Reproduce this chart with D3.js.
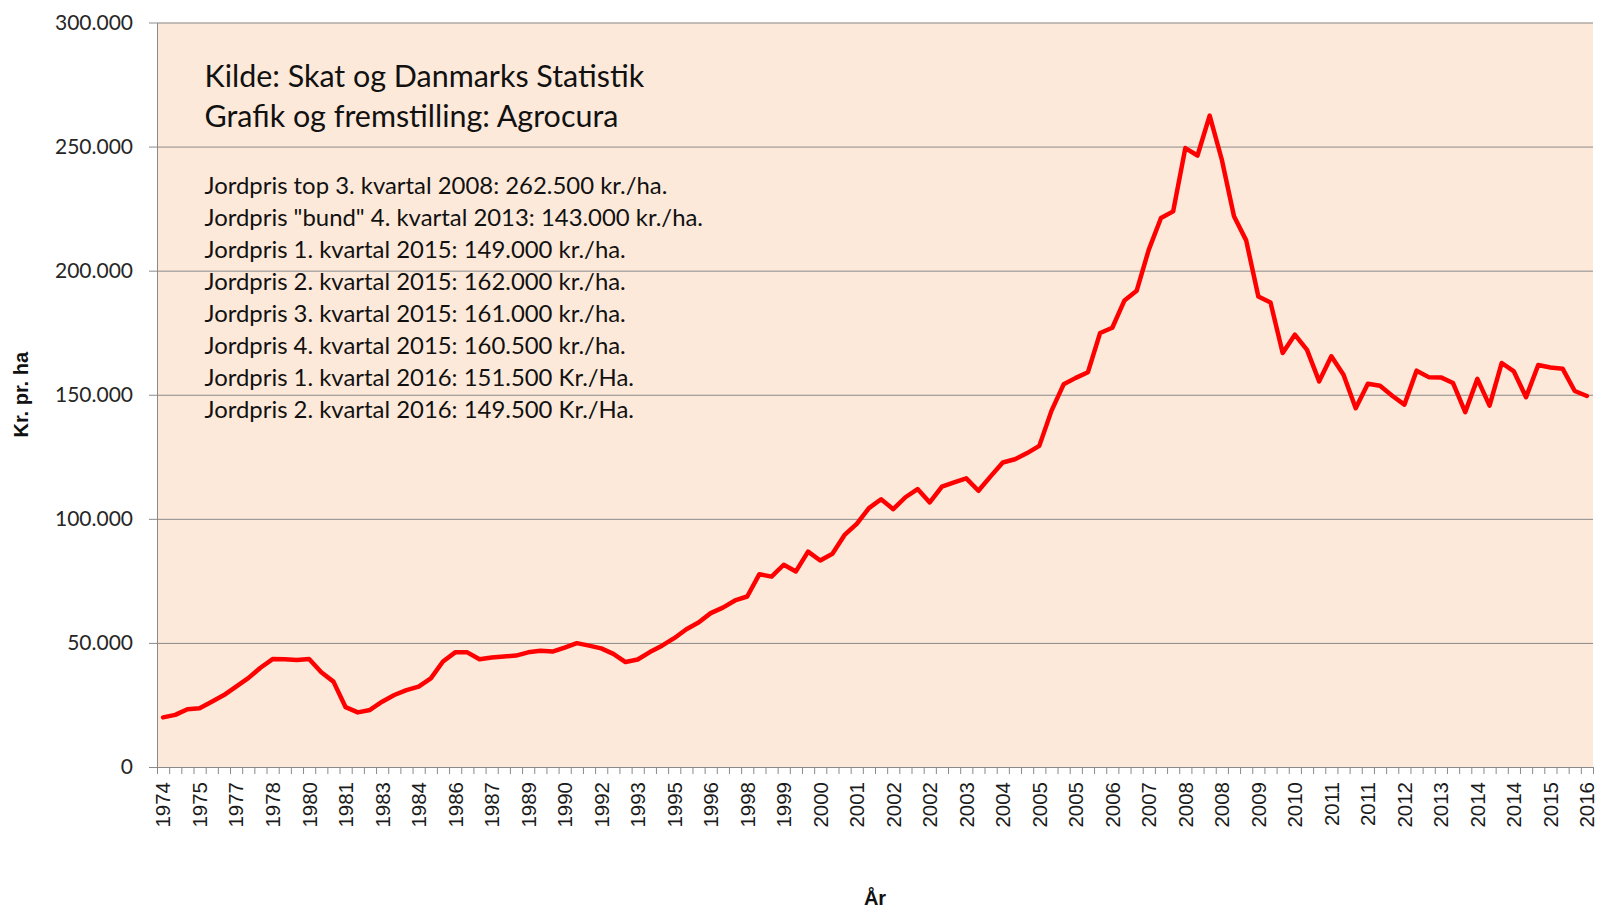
<!DOCTYPE html>
<html><head><meta charset="utf-8">
<script src="https://cdn.jsdelivr.net/npm/d3@7"></script>
<style>html,body{margin:0;padding:0;background:#fff;} svg{display:block;}</style>
</head><body>
<svg id="c" width="1597" height="909"></svg>
<script>
// Categories: half-yearly 1974-1999, then quarterly 2000-2016 Q2
const categories = [
"1974","1974","1975","1975","1976","1976","1977","1977","1978","1978",
"1979","1979","1980","1980","1981","1981","1982","1982","1983","1983",
"1984","1984","1985","1985","1986","1986","1987","1987","1988","1988",
"1989","1989","1990","1990","1991","1991","1992","1992","1993","1993",
"1994","1994","1995","1995","1996","1996","1997","1997","1998","1998",
"1999","1999",
"2000","2000","2000","2000","2001","2001","2001","2001","2002","2002","2002","2002",
"2003","2003","2003","2003","2004","2004","2004","2004","2005","2005","2005","2005",
"2006","2006","2006","2006","2007","2007","2007","2007","2008","2008","2008","2008",
"2009","2009","2009","2009","2010","2010","2010","2010","2011","2011","2011","2011",
"2012","2012","2012","2012","2013","2013","2013","2013","2014","2014","2014","2014",
"2015","2015","2015","2015","2016","2016"
];
const values = [
20000,21000,23300,23700,26300,29000,32400,35800,40000,43500,
43400,43100,43500,38200,34400,24100,22000,23000,26300,29000,
31000,32400,35700,42500,46200,46200,43400,44100,44500,44900,
46200,46800,46500,48100,49900,48900,47800,45600,42300,43300,
46300,48900,51900,55500,58200,62000,64200,67100,68700,77700,
76700,81500,78800,86800,83200,85900,93500,98000,104300,107900,
103900,108700,112000,106600,113000,114700,116300,111300,117100,122700,
124000,126500,129400,143500,154200,156800,159100,174900,177000,188000,
191900,208500,221200,223900,249400,246400,262500,244700,221900,212200,
189600,187200,166800,174200,168100,155400,165500,158100,144600,154400,
153600,149600,146000,159700,157100,157000,154700,143000,156400,145600,
162800,159400,149000,162000,161000,160500,151500,149500
];
const yTicks = [0,50000,100000,150000,200000,250000,300000];
const infoLines = ["Kilde: Skat og Danmarks Statistik","Grafik og fremstilling: Agrocura"];
const noteLines = [
"Jordpris top 3. kvartal 2008: 262.500 kr./ha.",
"Jordpris \"bund\" 4. kvartal 2013: 143.000 kr./ha.",
"Jordpris 1. kvartal 2015: 149.000 kr./ha.",
"Jordpris 2. kvartal 2015: 162.000 kr./ha.",
"Jordpris 3. kvartal 2015: 161.000 kr./ha.",
"Jordpris 4. kvartal 2015: 160.500 kr./ha.",
"Jordpris 1. kvartal 2016: 151.500 Kr./Ha.",
"Jordpris 2. kvartal 2016: 149.500 Kr./Ha."
];
const yTitle = "Kr. pr. ha";
const xTitle = "År";

const m = {left:157, right:1593, top:22.5, bottom:767};
const svg = d3.select("#c");
const n = values.length;
const x = d3.scaleBand().domain(d3.range(n)).range([m.left, m.right]).padding(0);
const xEdge = d3.scaleLinear().domain([0, n]).range([m.left, m.right]);
const y = d3.scaleLinear().domain([0, 300000]).range([m.bottom, m.top]);
const loc = d3.formatLocale({decimal:",", thousands:".", grouping:[3], currency:["",""]});
const fmt = loc.format(",");

svg.append("rect").attr("x", m.left).attr("y", m.top)
  .attr("width", m.right - m.left).attr("height", m.bottom - m.top)
  .attr("fill", "#FDE9D9");

// gridlines
svg.append("g").attr("transform", `translate(${m.left},0)`)
  .call(d3.axisLeft(y).tickValues(yTicks).tickSize(-(m.right - m.left)).tickFormat(""))
  .call(g => g.select(".domain").remove())
  .call(g => g.selectAll("line").attr("stroke", "#8a8a8a").attr("stroke-width", 1));

// y axis
const ya = svg.append("g").attr("transform", `translate(${m.left},0)`)
  .call(d3.axisLeft(y).tickValues(yTicks).tickSize(8).tickSizeOuter(0).tickPadding(16).tickFormat(fmt));
ya.select(".domain").attr("stroke", "#8a8a8a");
ya.selectAll("line").attr("stroke", "#8a8a8a");
ya.selectAll("text").attr("font-family", "Lato, sans-serif").attr("font-size", 21).attr("fill", "#262626");

// x axis tick marks at category boundaries
const xa = svg.append("g").attr("transform", `translate(0,${m.bottom})`)
  .call(d3.axisBottom(xEdge).tickValues(d3.range(n + 1)).tickSize(7).tickSizeOuter(0).tickFormat(""));
xa.select(".domain").attr("stroke", "#8a8a8a");
xa.selectAll("line").attr("stroke", "#8a8a8a");

// x labels every 3rd category
const xl = svg.append("g").attr("transform", `translate(0,${m.bottom})`)
  .call(d3.axisBottom(x).tickValues(d3.range(0, n, 3)).tickSize(0).tickFormat(i => categories[i]));
xl.select(".domain").remove();
xl.selectAll("text")
  .attr("font-family", "'Liberation Sans', Arial, sans-serif").attr("font-size", 20.5).attr("fill", "#1a1a1a")
  .attr("transform", "rotate(-90)").attr("text-anchor", "end")
  .attr("x", -15).attr("y", 0).attr("dy", "0.36em");

// line
const line = d3.line().x((d, i) => x(i) + x.bandwidth() / 2).y(d => y(d));
svg.append("path").datum(values).attr("d", line)
  .attr("fill", "none").attr("stroke", "#FF0000").attr("stroke-width", 4.5)
  .attr("stroke-linejoin", "round").attr("stroke-linecap", "round");

// annotations
function fit(sel, target) {
  const w = sel.node().getComputedTextLength();
  const fs = parseFloat(sel.attr("font-size"));
  return fs * target / w;
}
const info = svg.append("g").selectAll("text").data(infoLines).join("text")
  .attr("x", 204.5).attr("y", (d, i) => 87 + i * 40)
  .attr("font-family", "Lato, sans-serif").attr("font-size", 28).attr("fill", "#111")
  .text(d => d);
const fsInfo = fit(d3.select(info.nodes()[0]), 440);
info.attr("font-size", fsInfo);

const notes = svg.append("g").selectAll("text").data(noteLines).join("text")
  .attr("x", 204.5).attr("y", (d, i) => 194 + i * 32)
  .attr("font-family", "Lato, sans-serif").attr("font-size", 22).attr("fill", "#111")
  .text(d => d);
const fsNote = fit(d3.select(notes.nodes()[0]), 463);
notes.attr("font-size", fsNote);

// axis titles
svg.append("text").attr("transform", `translate(28,${(m.top + m.bottom) / 2}) rotate(-90)`)
  .attr("text-anchor", "middle").attr("font-family", "'Liberation Sans', Arial, sans-serif")
  .attr("font-weight", "bold").attr("font-size", 20).attr("fill", "#111").text(yTitle);
svg.append("text").attr("x", (m.left + m.right) / 2).attr("y", 905)
  .attr("text-anchor", "middle").attr("font-family", "'Liberation Sans', Arial, sans-serif")
  .attr("font-weight", "bold").attr("font-size", 20).attr("fill", "#111").text(xTitle);
</script>
</body></html>
